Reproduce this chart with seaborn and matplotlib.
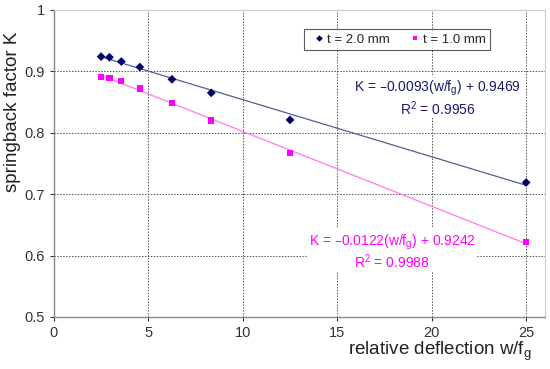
import numpy as np
import pandas as pd
import matplotlib
matplotlib.use("Agg")
import matplotlib.pyplot as plt
import seaborn as sns

# relative deflection w/fg and springback factor K
x_vals = [2.5, 2.94, 3.57, 4.55, 6.25, 8.33, 12.5, 25.0]
k_t20 = [0.924, 0.923, 0.916, 0.907, 0.887, 0.865, 0.821, 0.719]
k_t10 = [0.891, 0.889, 0.884, 0.872, 0.849, 0.820, 0.767, 0.622]

# fitted trend lines (slope, intercept, R^2)
fit_t20 = (-0.0093, 0.9469, 0.9956)
fit_t10 = (-0.0122, 0.9242, 0.9988)

x_ticks = [0, 5, 10, 15, 20, 25]
y_ticks = [0.5, 0.6, 0.7, 0.8, 0.9, 1.0]
y_tick_labels = ["0.5", "0.6", "0.7", "0.8", "0.9", "1"]

navy = "#000066"
navy_line = "#5a5a92"
magenta = "#ff00ff"
magenta_line = "#ff77ee"

sns.set_style("white")
plt.rcParams["font.family"] = ["Liberation Sans", "DejaVu Sans"]
plt.rcParams["axes.unicode_minus"] = False

df = pd.DataFrame({
    "x": x_vals * 2,
    "K": k_t20 + k_t10,
    "series": ["t = 2.0 mm"] * len(x_vals) + ["t = 1.0 mm"] * len(x_vals),
})

fig = plt.figure(figsize=(5.5, 3.69), dpi=100)
ax = fig.add_axes([0.098, 0.141, 0.893, 0.832])

# trend lines
xl = np.array([min(x_vals), max(x_vals)])
sns.lineplot(x=xl, y=fit_t20[0] * xl + fit_t20[1], color=navy_line, lw=0.9, ax=ax, zorder=2)
sns.lineplot(x=xl, y=fit_t10[0] * xl + fit_t10[1], color=magenta_line, lw=0.9, ax=ax, zorder=2)

sns.scatterplot(data=df, x="x", y="K", hue="series", style="series",
                palette={"t = 2.0 mm": navy, "t = 1.0 mm": magenta},
                markers={"t = 2.0 mm": "D", "t = 1.0 mm": "s"},
                s=20, linewidth=0, ax=ax, zorder=3)

ax.set_xlim(0, 26)
ax.set_ylim(0.5, 1.0)
ax.set_xticks(x_ticks)
ax.set_yticks(y_ticks)
ax.set_yticklabels(y_tick_labels)
ax.tick_params(labelsize=10.5, colors="#333333", length=3, width=0.8, direction="out",
               left=True, bottom=True)

ax.grid(True, color="#555555", linestyle=(0, (1.5, 1.5)), linewidth=0.7)
ax.set_axisbelow(True)
for side in ["left", "bottom"]:
    ax.spines[side].set_color("#888888")
    ax.spines[side].set_linewidth(1.0)
for side in ["top", "right"]:
    ax.spines[side].set_color("#cccccc")
    ax.spines[side].set_linewidth(0.8)

ax.set_xlabel("relative deflection w/f$_\\mathregular{g}$", fontsize=13.5, color="#222222")
ax.xaxis.set_label_coords(0.973, -0.075)
ax.xaxis.label.set_ha("right")
ax.set_ylabel("springback factor K", fontsize=13.5, color="#222222")
ax.yaxis.set_label_coords(-0.068, 0.668)

leg = ax.legend(loc="upper center", bbox_to_anchor=(0.699, 0.96), ncol=2, frameon=True,
                fancybox=False, edgecolor="#333333", fontsize=9.5, handletextpad=-0.2,
                handlelength=1.6, columnspacing=1.1, markerscale=0.75, borderpad=0.35)
leg.get_frame().set_linewidth(0.8)

ax.text(20.3, 0.856, "K = \u20130.0093(w/f$_\\mathregular{g}$) + 0.9469\nR$^\\mathregular{2}$ = 0.9956",
        color="#1a1a6e", fontsize=10, ha="center", va="center", linespacing=1.05,
        bbox=dict(facecolor="white", edgecolor="none", pad=0.5))
ax.text(17.9, 0.606, "K = \u20130.0122(w/f$_\\mathregular{g}$) + 0.9242\nR$^\\mathregular{2}$ = 0.9988",
        color=magenta, fontsize=10, ha="center", va="center", linespacing=1.05,
        bbox=dict(facecolor="white", edgecolor="none", pad=0.5))

fig.savefig("out.png", dpi=100)
